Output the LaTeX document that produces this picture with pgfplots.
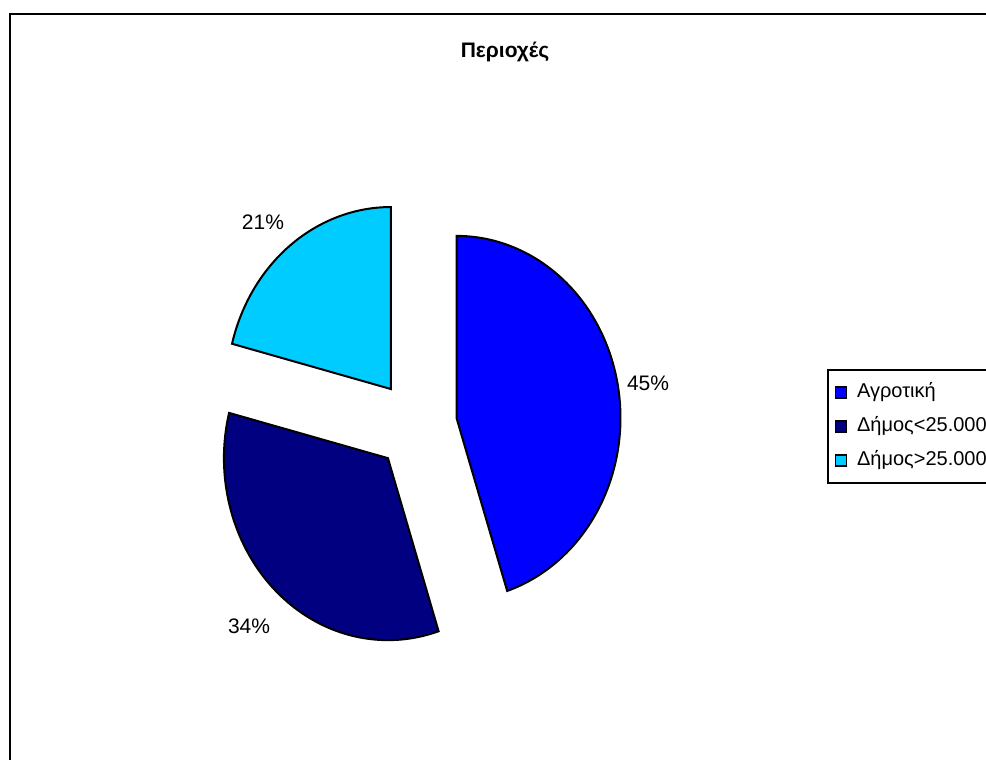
\documentclass[border=0pt]{standalone}
\usepackage{pgfplots}
\pgfplotsset{compat=1.18}
\usepackage{fontspec}
\setmainfont{Liberation Sans}
\definecolor{agro}{RGB}{0,0,255}
\definecolor{dimlt}{RGB}{0,0,128}
\definecolor{dimgt}{RGB}{0,204,255}
% data (percent)
\def\valA{45}\def\valB{34}\def\valC{21}
\def\explode{0.25}
\begin{document}
\begin{tikzpicture}[x=1pt,y=1pt]
\clip (0,0) rectangle (986,760);
\fill[white] (0,0) rectangle (986,760);
\pgfmathsetmacro\sA{90}
\pgfmathsetmacro\eA{\sA-3.6*\valA}
\pgfmathsetmacro\mA{(\sA+\eA)/2}
\pgfmathsetmacro\xA{\explode*cos(\mA)}
\pgfmathsetmacro\yA{\explode*sin(\mA)}
\pgfmathsetmacro\sB{\eA}
\pgfmathsetmacro\eB{\sB-3.6*\valB}
\pgfmathsetmacro\mB{(\sB+\eB)/2}
\pgfmathsetmacro\xB{\explode*cos(\mB)}
\pgfmathsetmacro\yB{\explode*sin(\mB)}
\pgfmathsetmacro\sC{\eB}
\pgfmathsetmacro\eC{\sC-3.6*\valC}
\pgfmathsetmacro\mC{(\sC+\eC)/2}
\pgfmathsetmacro\xC{\explode*cos(\mC)}
\pgfmathsetmacro\yC{\explode*sin(\mC)}
\begin{axis}[
  x=164pt, y=182pt, xmin=-2, xmax=2, ymin=-2, ymax=2,
  scale only axis, hide axis, clip=false,
  anchor=center, at={(416pt,335pt)},
  legend style={at={(1.1265,0.5769)}, anchor=north west, draw=black, line width=1.8pt,
    font=\fontsize{20}{24}\selectfont, inner xsep=7pt, inner ysep=11pt, row sep=11pt,
    nodes={inner sep=2pt, text height=14.5pt, text depth=4.5pt},
    /tikz/every odd column/.append style={column sep=8pt}},
  legend cell align=left,
  legend image code/.code={\draw[#1, draw=black, line width=1.2pt] (0pt,-5.5pt) rectangle (11pt,5.5pt);},
]
\addplot[fill=agro, draw=black, line width=2pt, domain=\eA:\sA, samples=120, variable=\t]
  ({\xA+cos(\t)}, {\yA+sin(\t)}) -- (axis cs:\xA,\yA) -- cycle;
\addplot[fill=dimlt, draw=black, line width=2pt, domain=\eB:\sB, samples=120, variable=\t]
  ({\xB+cos(\t)}, {\yB+sin(\t)}) -- (axis cs:\xB,\yB) -- cycle;
\addplot[fill=dimgt, draw=black, line width=2pt, domain=\eC:\sC, samples=120, variable=\t]
  ({\xC+cos(\t)}, {\yC+sin(\t)}) -- (axis cs:\xC,\yC) -- cycle;
\legend{Αγροτική, Δήμος<25.000, Δήμος>25.000}
\node[font=\fontsize{21}{25}\selectfont] at (axis cs:1.415,0.231) {45\%};
\node[font=\fontsize{21}{25}\selectfont] at (axis cs:-1.018,-1.104) {34\%};
\node[font=\fontsize{21}{25}\selectfont] at (axis cs:-0.933,1.115) {21\%};
\node[font=\fontsize{21}{25}\selectfont\bfseries] at (axis cs:0.543,2.049) {Περιοχές};
\end{axis}
\draw[line width=2.2] (10,-10) -- (10,746) -- (1000,746);
\end{tikzpicture}
\end{document}
